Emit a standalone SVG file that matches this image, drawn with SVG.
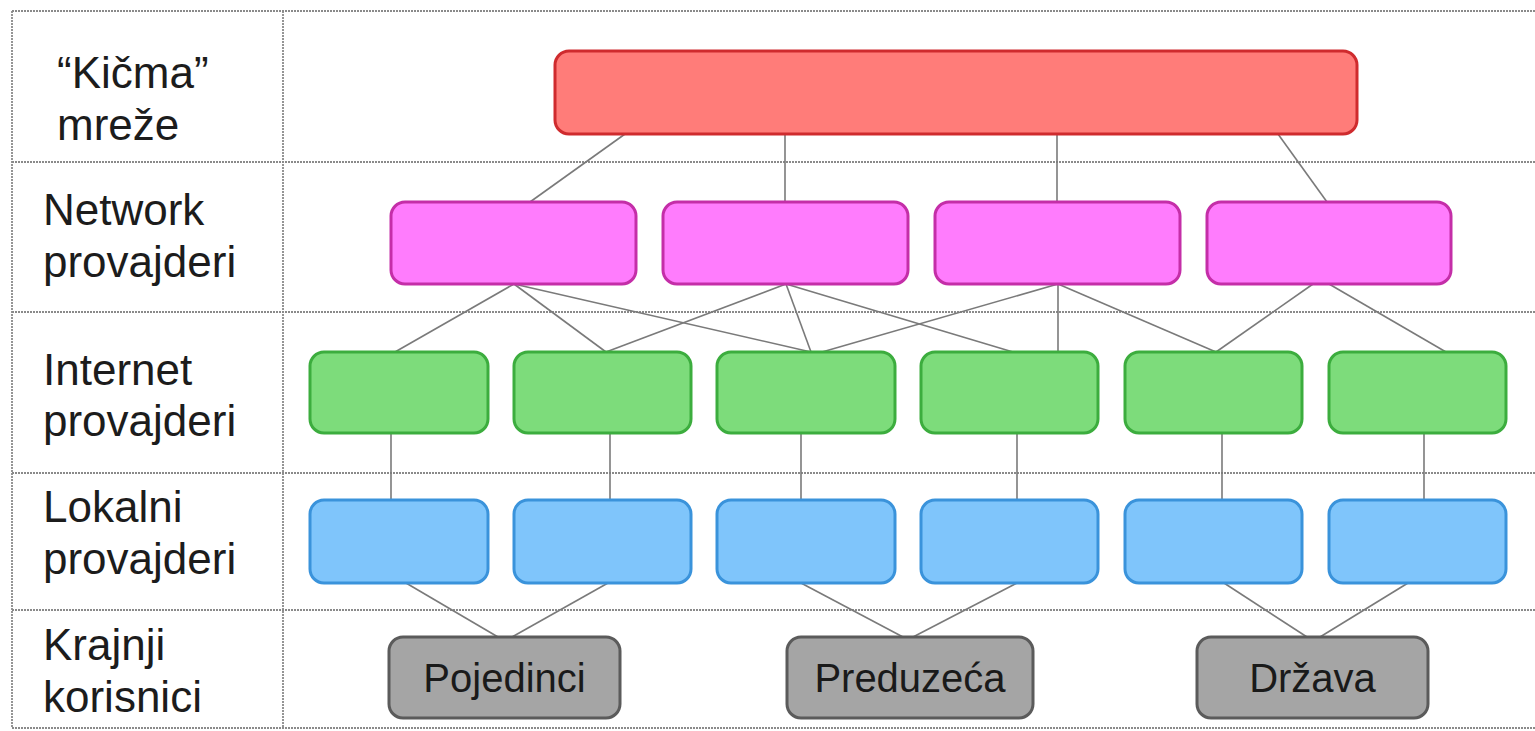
<svg xmlns="http://www.w3.org/2000/svg" width="1535" height="731" viewBox="0 0 1535 731">
  <defs>
    <style>
      .grid { stroke: #8a8a8a; stroke-width: 1.8; stroke-dasharray: 2 1; fill: none; }
      .lbl { font-family: "Liberation Sans", Arial, sans-serif; font-size: 44px; fill: #1c1c1c; }
      .box-text { font-family: "Liberation Sans", Arial, sans-serif; font-size: 40px; fill: #1a1a1a; text-anchor: middle; }
      .link { stroke: #7a7a7a; stroke-width: 1.6; fill: none; }
      .backbone { fill: #ff7c79; stroke: #cf2b2e; stroke-width: 3; }
      .net { fill: #ff7cfd; stroke: #c42ea8; stroke-width: 3; }
      .isp { fill: #7ddc7b; stroke: #3cad3e; stroke-width: 3; }
      .local { fill: #7fc5fb; stroke: #3a93db; stroke-width: 3; }
      .user { fill: #a5a5a5; stroke: #5b5b5b; stroke-width: 3; }
    </style>
  </defs>

  <rect width="1535" height="731" fill="#ffffff"/>

  <!-- table grid -->
  <g id="grid">
    <line class="grid" x1="12" y1="11" x2="1535" y2="11"/>
    <line class="grid" x1="12" y1="162" x2="1535" y2="162"/>
    <line class="grid" x1="12" y1="312" x2="1535" y2="312"/>
    <line class="grid" x1="12" y1="473" x2="1535" y2="473"/>
    <line class="grid" x1="12" y1="610" x2="1535" y2="610"/>
    <line class="grid" x1="12" y1="728" x2="1535" y2="728"/>
    <line class="grid" x1="12" y1="11" x2="12" y2="728"/>
    <line class="grid" x1="283" y1="11" x2="283" y2="728"/>
  </g>

  <!-- row labels -->
  <g id="row-labels">
    <text class="lbl" x="57" y="88">“Kičma”</text>
    <text class="lbl" x="57" y="140">mreže</text>
    <text class="lbl" x="43" y="225">Network</text>
    <text class="lbl" x="43" y="277">provajderi</text>
    <text class="lbl" x="43" y="385">Internet</text>
    <text class="lbl" x="43" y="436">provajderi</text>
    <text class="lbl" x="43" y="522">Lokalni</text>
    <text class="lbl" x="43" y="574">provajderi</text>
    <text class="lbl" x="43" y="660">Krajnji</text>
    <text class="lbl" x="43" y="712">korisnici</text>
  </g>

  <!-- connectors -->
  <g id="connectors">
    <!-- backbone to network providers -->
    <line class="link" x1="625" y1="134" x2="530" y2="202"/>
    <line class="link" x1="785" y1="134" x2="785" y2="202"/>
    <line class="link" x1="1057" y1="134" x2="1057" y2="202"/>
    <line class="link" x1="1278" y1="134" x2="1327" y2="202"/>
    <!-- network providers to internet providers -->
    <line class="link" x1="514" y1="284" x2="395" y2="352"/>
    <line class="link" x1="514" y1="284" x2="606" y2="352"/>
    <line class="link" x1="514" y1="284" x2="811" y2="352"/>
    <line class="link" x1="786" y1="284" x2="606" y2="352"/>
    <line class="link" x1="786" y1="284" x2="811" y2="352"/>
    <line class="link" x1="786" y1="284" x2="1013" y2="352"/>
    <line class="link" x1="1058" y1="284" x2="822" y2="352"/>
    <line class="link" x1="1058" y1="284" x2="1058" y2="352"/>
    <line class="link" x1="1058" y1="284" x2="1216" y2="352"/>
    <line class="link" x1="1313" y1="284" x2="1216" y2="352"/>
    <line class="link" x1="1329" y1="284" x2="1446" y2="352"/>
    <!-- internet providers to local providers -->
    <line class="link" x1="391" y1="433" x2="391" y2="500"/>
    <line class="link" x1="610" y1="433" x2="610" y2="500"/>
    <line class="link" x1="801" y1="433" x2="801" y2="500"/>
    <line class="link" x1="1017" y1="433" x2="1017" y2="500"/>
    <line class="link" x1="1222" y1="433" x2="1222" y2="500"/>
    <line class="link" x1="1424" y1="433" x2="1424" y2="500"/>
    <!-- local providers to end users -->
    <line class="link" x1="406" y1="583" x2="498" y2="637"/>
    <line class="link" x1="608" y1="583" x2="512" y2="637"/>
    <line class="link" x1="801" y1="583" x2="903" y2="637"/>
    <line class="link" x1="1017" y1="583" x2="913" y2="637"/>
    <line class="link" x1="1224" y1="583" x2="1307" y2="637"/>
    <line class="link" x1="1408" y1="583" x2="1320" y2="637"/>
  </g>

  <!-- backbone -->
  <g id="backbone">
    <rect class="backbone" x="555" y="51" width="802" height="83" rx="14"/>
  </g>

  <!-- network providers -->
  <g id="net-1"><rect class="net" x="391" y="202" width="245" height="82" rx="14"/></g>
  <g id="net-2"><rect class="net" x="663" y="202" width="245" height="82" rx="14"/></g>
  <g id="net-3"><rect class="net" x="935" y="202" width="245" height="82" rx="14"/></g>
  <g id="net-4"><rect class="net" x="1207" y="202" width="244" height="82" rx="14"/></g>

  <!-- internet providers -->
  <g id="isp-1"><rect class="isp" x="310" y="352" width="178" height="81" rx="14"/></g>
  <g id="isp-2"><rect class="isp" x="514" y="352" width="177" height="81" rx="14"/></g>
  <g id="isp-3"><rect class="isp" x="717" y="352" width="178" height="81" rx="14"/></g>
  <g id="isp-4"><rect class="isp" x="921" y="352" width="177" height="81" rx="14"/></g>
  <g id="isp-5"><rect class="isp" x="1125" y="352" width="177" height="81" rx="14"/></g>
  <g id="isp-6"><rect class="isp" x="1329" y="352" width="177" height="81" rx="14"/></g>

  <!-- local providers -->
  <g id="local-1"><rect class="local" x="310" y="500" width="178" height="83" rx="14"/></g>
  <g id="local-2"><rect class="local" x="514" y="500" width="177" height="83" rx="14"/></g>
  <g id="local-3"><rect class="local" x="717" y="500" width="178" height="83" rx="14"/></g>
  <g id="local-4"><rect class="local" x="921" y="500" width="177" height="83" rx="14"/></g>
  <g id="local-5"><rect class="local" x="1125" y="500" width="177" height="83" rx="14"/></g>
  <g id="local-6"><rect class="local" x="1329" y="500" width="177" height="83" rx="14"/></g>

  <!-- end users -->
  <g id="user-pojedinci">
    <rect class="user" x="389" y="637" width="231" height="81" rx="14"/>
    <text class="box-text" x="504.5" y="692">Pojedinci</text>
  </g>
  <g id="user-preduzeca">
    <rect class="user" x="787" y="637" width="246" height="81" rx="14"/>
    <text class="box-text" x="910" y="692">Preduzeća</text>
  </g>
  <g id="user-drzava">
    <rect class="user" x="1197" y="637" width="231" height="81" rx="14"/>
    <text class="box-text" x="1312.5" y="692">Država</text>
  </g>
</svg>
